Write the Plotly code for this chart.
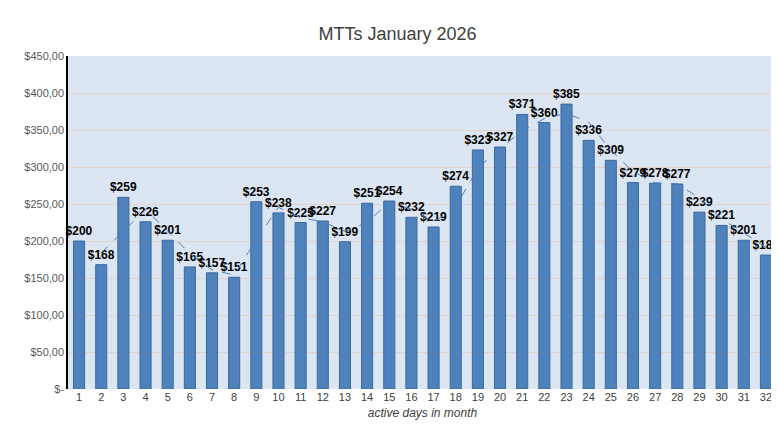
import pandas as pd
import plotly.graph_objects as go

days = list(range(1, 33))
mtt = [200, 168, 259, 226, 201, 165, 157, 151, 253, 238, 225, 227, 199, 251, 254, 232,
       219, 274, 323, 327, 371, 360, 385, 336, 309, 279, 278, 277, 239, 221, 201, 181]
y_ticks = [0, 50, 100, 150, 200, 250, 300, 350, 400, 450]
y_labels = ['$-'] + ['${},00'.format(v) for v in y_ticks[1:]]

# 2-period moving average trendline
trend = pd.Series(mtt).rolling(2).mean()

fig = go.Figure()
fig.add_trace(go.Bar(
    x = days, y = mtt,
    marker = dict(color = '#4F81BD', line = dict(color = '#3A6A9E', width = 1)),
    width = 0.5,
    text = ['<b>${}</b>'.format(v) for v in mtt],
    textposition = 'outside',
    constraintext = 'none',
    textfont = dict(family = 'Liberation Sans', size = 12, color = '#000000'),
    cliponaxis = False))
fig.add_trace(go.Scatter(
    x = days, y = trend, mode = 'lines',
    line = dict(color = '#4F81BD', width = 1, dash = 'dash')))

fig.update_layout(
    title = dict(text = 'MTTs January 2026', x = 0.5, y = 0.955,
                 font = dict(family = 'Liberation Sans', size = 18, color = '#404040')),
    width = 779, height = 441,
    margin = dict(l = 60, r = 10, t = 48, b = 60),
    paper_bgcolor = 'white', plot_bgcolor = '#DCE6F2',
    showlegend = False,
    font = dict(family = 'Liberation Sans', size = 11, color = '#595959'),
    uniformtext = dict(mode = False))
fig.update_xaxes(tickvals = days, range = [0.5, 32.5], showgrid = False,
                 title = dict(text = '<i>active days in month</i>', font = dict(size = 12, color = '#404040'), standoff = 6),
                 tickfont = dict(color = '#404040'))
fig.update_yaxes(range = [0, 450], tickvals = y_ticks, ticktext = y_labels,
                 gridcolor = '#E3D3C8', showline = True, linecolor = 'black', linewidth = 1.5,
                 zeroline = False, ticks = '')

fig.write_html('out.html')
